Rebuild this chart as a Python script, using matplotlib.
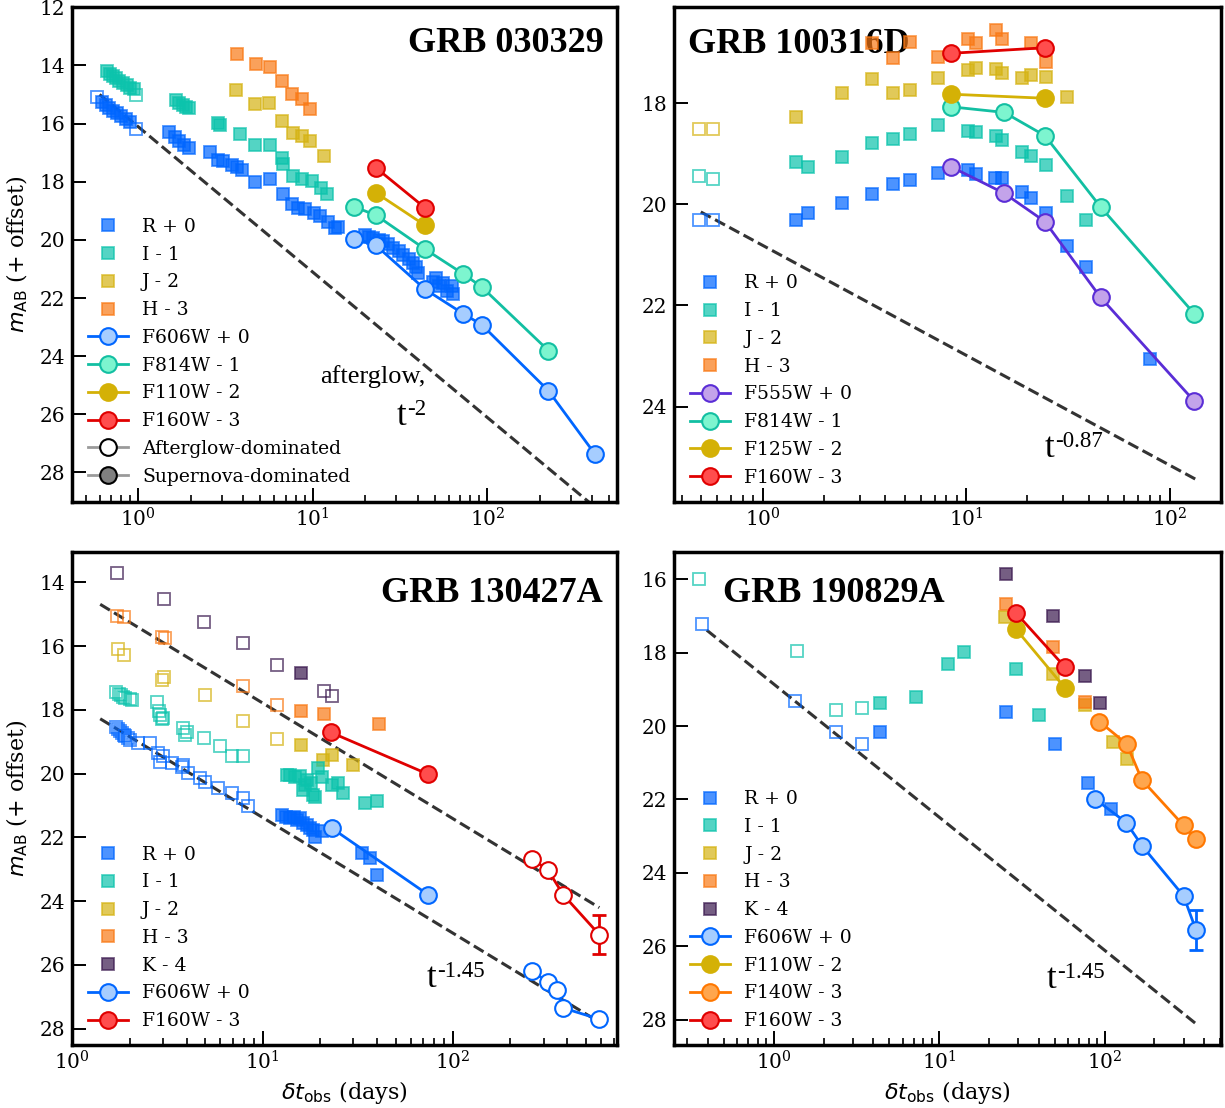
import numpy as np
import matplotlib
matplotlib.use("Agg")
import matplotlib.pyplot as plt
from matplotlib.lines import Line2D
from matplotlib.ticker import LogLocator, NullFormatter

plt.rcParams['font.family'] = ['DejaVu Serif']
plt.rcParams['mathtext.fontset'] = 'dejavusans'
TIMES = 'Liberation Serif'

# ---------------- DATA ----------------
# GRB 030329
A_R_ag_t = [0.58, 0.97]
A_R_ag_m = [15.10, 16.17]
A_R_t = [0.62, 0.65, 0.68, 0.72, 0.76, 0.80, 0.85, 0.90,
         1.50, 1.62, 1.72, 1.82, 1.95,
         2.58, 2.87, 3.05, 3.43, 3.70, 3.91, 4.67, 5.69,
         6.78, 7.6, 8.2, 9.0, 10.1, 11.0, 12.3, 13.4, 14.0,
         19.9, 21.0, 22.2, 24.0, 25.4, 27.0, 28.9, 31.0, 33.0, 35.5, 37.7, 39.0, 40.3,
         49, 51, 53, 56, 59, 63, 64]
A_R_m = [15.25, 15.35, 15.45, 15.55, 15.65, 15.75, 15.85, 15.95,
         16.30, 16.45, 16.60, 16.72, 16.85,
         16.97, 17.26, 17.30, 17.43, 17.50, 17.60, 18.00, 17.90,
         18.43, 18.77, 18.89, 18.94, 19.06, 19.17, 19.40, 19.60, 19.55,
         19.84, 19.90, 19.94, 20.00, 20.05, 20.15, 20.28, 20.40, 20.51, 20.65, 20.80, 20.95, 21.14,
         21.45, 21.30, 21.60, 21.50, 21.75, 21.60, 21.85]
A_I_ag_t = [0.97]
A_I_ag_m = [15.00]
A_I_t = [0.66, 0.69, 0.72, 0.75, 0.78, 0.82, 0.86, 0.90, 0.94,
         1.65, 1.72, 1.80, 1.88, 1.95,
         2.87, 2.95, 3.83, 4.67, 5.69, 6.63, 6.75,
         7.73, 8.64, 9.86, 11.2, 12.0]
A_I_m = [14.20, 14.28, 14.36, 14.44, 14.52, 14.60, 14.68, 14.76, 14.82,
         15.20, 15.28, 15.35, 15.42, 15.47,
         15.97, 16.05, 16.37, 16.75, 16.72, 17.17, 17.40,
         17.80, 17.90, 17.97, 18.20, 18.43]
A_J_t = [3.63, 4.67, 5.63, 6.63, 7.73, 8.64, 9.66, 11.6]
A_J_m = [14.83, 15.31, 15.28, 15.92, 16.32, 16.44, 16.61, 17.11]
A_H_t = [3.69, 4.70, 5.69, 6.63, 7.64, 8.64, 9.70]
A_H_m = [13.59, 13.94, 14.04, 14.55, 14.99, 15.16, 15.50]
A_F606W_t = [17.2, 23.0, 44.0, 72.8, 92.9, 224, 414]
A_F606W_m = [19.96, 20.19, 21.70, 22.54, 22.92, 25.19, 27.37]
A_F814W_t = [17.2, 23.0, 44.0, 72.8, 92.9, 224]
A_F814W_m = [18.86, 19.15, 20.32, 21.17, 21.62, 23.81]
A_F110W_t = [23.0, 44.0]
A_F110W_m = [18.38, 19.50]
A_F160W_t = [23.0, 44.0]
A_F160W_m = [17.52, 18.90]
A_model = dict(t0=0.60, m0=15.0, index=2.0, t1=420)

# GRB 100316D
B_R_ag_t = [0.486, 0.571]
B_R_ag_m = [20.31, 20.31]
B_I_ag_t = [0.486, 0.571]
B_I_ag_m = [19.43, 19.50]
B_J_ag_t = [0.486, 0.571]
B_J_ag_m = [18.50, 18.51]
B_R_t = [1.46, 1.665, 2.45, 3.44, 4.39, 5.33, 7.28, 10.2, 11.2, 13.9, 15.0, 18.9, 20.8, 24.7, 31.5, 39.0, 80.5]
B_R_m = [20.31, 20.18, 19.98, 19.80, 19.60, 19.52, 19.37, 19.31, 19.40, 19.47, 19.47, 19.76, 19.88, 20.18, 20.83, 21.24, 23.06]
B_I_t = [1.46, 1.665, 2.45, 3.44, 4.39, 5.33, 7.28, 10.2, 11.2, 14.0, 15.1, 18.9, 20.8, 24.7, 31.5, 39.0]
B_I_m = [19.16, 19.26, 19.06, 18.79, 18.71, 18.61, 18.43, 18.54, 18.56, 18.65, 18.73, 18.96, 19.04, 19.22, 19.84, 20.30]
B_J_t = [1.46, 2.45, 3.44, 4.39, 5.33, 7.28, 10.2, 11.2, 14.0, 15.1, 18.9, 20.8, 24.7, 31.5]
B_J_m = [18.28, 17.80, 17.52, 17.80, 17.74, 17.50, 17.34, 17.31, 17.32, 17.41, 17.50, 17.44, 17.47, 17.88]
B_H_t = [3.46, 4.39, 5.33, 7.28, 10.2, 11.2, 14.1, 15.0, 20.8, 24.7]
B_H_m = [16.81, 17.11, 16.79, 17.08, 16.73, 16.81, 16.55, 16.73, 16.81, 17.18]
B_F555W_t = [8.47, 15.4, 24.4, 45.8, 132]
B_F555W_m = [19.26, 19.78, 20.34, 21.84, 23.89]
B_F814W_t = [8.47, 15.4, 24.4, 45.8, 132]
B_F814W_m = [18.07, 18.18, 18.64, 20.05, 22.16]
B_F125W_t = [8.47, 24.4]
B_F125W_m = [17.82, 17.90]
B_F160W_t = [8.47, 24.4]
B_F160W_m = [17.01, 16.90]
B_model = dict(t0=0.497, m0=20.15, index=0.87, t1=135)

# GRB 130427A
C_K_ag_t = [1.72, 3.03, 4.94, 7.92, 11.9, 20.9, 23.1]
C_K_ag_m = [13.71, 14.53, 15.25, 15.91, 16.59, 17.40, 17.56]
C_K_t = [15.9]
C_K_m = [16.85]
C_H_ag_t = [1.71, 1.87, 2.97, 3.05, 7.92, 11.9]
C_H_ag_m = [15.07, 15.10, 15.70, 15.75, 17.24, 17.84]
C_H_t = [16.0, 20.9, 41.1]
C_H_m = [18.05, 18.14, 18.44]
C_J_ag_t = [1.73, 1.87, 2.95, 3.04, 4.98, 7.92, 11.9]
C_J_ag_m = [16.10, 16.28, 17.06, 16.96, 17.54, 18.35, 18.92]
C_J_t = [16.0, 20.7, 23.1, 30.0]
C_J_m = [19.10, 19.57, 19.41, 19.72]
C_I_ag_t = [1.70, 1.75, 1.80, 1.85, 1.90, 2.00, 2.05, 2.80, 2.85, 2.90, 2.95, 3.00,
            3.83, 3.90, 4.00, 4.94, 5.97, 6.88, 7.92]
C_I_ag_m = [17.45, 17.50, 17.55, 17.60, 17.62, 17.65, 17.70, 17.75, 18.05, 18.15, 18.30, 18.25,
            18.57, 18.80, 18.68, 18.89, 19.12, 19.46, 19.46]
C_I_t = [13.4, 13.9, 14.8, 15.7, 16.4, 16.7, 17.1, 18.0, 18.5, 18.9, 19.6, 20.5, 23.1, 25.0, 26.6, 34.5, 39.8]
C_I_m = [20.04, 20.04, 20.10, 20.09, 20.51, 20.35, 20.19, 20.30, 20.66, 20.72, 19.83, 20.10, 20.35, 20.30, 20.61, 20.93, 20.87]
C_R_ag_t = [1.70, 1.74, 1.78, 1.82, 1.86, 1.90, 1.95, 2.00,
            2.22, 2.56, 2.83, 2.89, 3.00, 3.33, 3.75, 3.83, 4.07, 4.69, 4.98, 5.85, 6.88, 7.92, 8.41]
C_R_ag_m = [18.55, 18.60, 18.66, 18.72, 18.78, 18.83, 18.88, 18.93,
            19.04, 19.04, 19.36, 19.62, 19.46, 19.67, 19.78, 19.72, 19.98, 20.14, 20.25, 20.45, 20.61, 20.77, 21.03]
C_R_t = [12.6, 13.2, 13.9, 14.6, 15.2, 15.7, 16.4, 17.1, 17.8, 18.5, 18.9, 20.5, 33.2, 36.7, 39.8]
C_R_m = [21.29, 21.35, 21.40, 21.35, 21.45, 21.40, 21.55, 21.60, 21.70, 21.76, 22.00, 21.81, 22.49, 22.65, 23.17]
C_F606W_t = [23.1, 74.3]
C_F606W_m = [21.71, 23.80]
C_F606W_ag_t = [260, 316, 352, 381, 589]
C_F606W_ag_m = [26.20, 26.52, 26.78, 27.35, 27.70]
C_F160W_t = [22.9, 74.3]
C_F160W_m = [18.71, 20.02]
C_F160W_ag_t = [260, 316, 381, 589]
C_F160W_ag_m = [22.67, 23.02, 23.80, 25.05]
C_F160W_ag_err = [0.0, 0.0, 0.0, 0.62]
C_model_hi = dict(t0=1.40, m0=14.69, index=1.45, t1=589)
C_model_lo = dict(t0=1.40, m0=18.28, index=1.45, t1=589)

# GRB 190829A
D_I_ag_t = [0.353, 1.38, 2.39, 3.39]
D_I_ag_m = [16.00, 17.96, 19.56, 19.52]
D_R_ag_t = [0.370, 1.35, 2.39, 3.39]
D_R_ag_m = [17.23, 19.32, 20.15, 20.50]
D_R_t = [4.37, 25.4, 50.2, 78.9, 109]
D_R_m = [20.15, 19.61, 20.50, 21.56, 22.27]
D_I_t = [4.37, 7.27, 11.3, 14.2, 29.2, 40.0]
D_I_m = [19.38, 19.22, 18.31, 17.98, 18.45, 19.70]
D_J_t = [24.8, 48.5, 76.5, 112, 136]
D_J_m = [17.03, 18.57, 19.43, 20.43, 20.90]
D_H_t = [25.2, 49.0, 76.5]
D_H_m = [16.69, 17.86, 19.34]
D_K_t = [25.4, 49.0, 76.5, 93.8]
D_K_m = [15.86, 17.01, 18.64, 19.37]
D_F606W_t = [87.5, 135, 168, 300, 356]
D_F606W_m = [21.99, 22.63, 23.26, 24.63, 25.55]
D_F606W_err = [0.0, 0.0, 0.0, 0.10, 0.55]
D_F110W_t = [29.2, 57.7]
D_F110W_m = [17.37, 18.97]
D_F140W_t = [92.9, 136, 168, 300, 356]
D_F140W_m = [19.88, 20.49, 21.47, 22.71, 23.08]
D_F160W_t = [29.2, 57.7]
D_F160W_m = [16.93, 18.40]
D_model = dict(t0=0.393, m0=17.39, index=1.45, t1=354)

# ---------------- STYLE ----------------
BAND = {'R': '#0066FF', 'I': '#0CC3AC', 'J': '#D5B313', 'H': '#F97915', 'K': '#3B1A4F'}
HST = {
    'F606W': ('#A6CDFF', '#0066FF'),
    'F814W': ('#7DF5CF', '#12BFA2'),
    'F110W': ('#D4B106', '#D4B106'),
    'F125W': ('#D4B106', '#D4B106'),
    'F140W': ('#FFA64D', '#FF7700'),
    'F160W': ('#FF4D4D', '#E00000'),
    'F555W': ('#C3A3EA', '#5A2DD6'),
}
SQ_MS, SQ_MEW, SQ_ALPHA = 9.0, 1.3, 0.7
C_MS, C_MEW = 12, 1.5

W, H = 1225, 1108
fig = plt.figure(figsize=(W / 100, H / 100), dpi=100)


def px_axes(x0, y0, x1, y1):
    return fig.add_axes([x0 / W, 1 - y1 / H, (x1 - x0) / W, (y1 - y0) / H])


def squares(ax, t, m, band, filled=True):
    c = BAND[band]
    ax.plot(t, m, ls='none', marker='s', ms=SQ_MS, mew=SQ_MEW,
            mfc=c if filled else 'none', mec=c, alpha=SQ_ALPHA, zorder=2)


def hst(ax, t, m, filt, filled=True, err=None):
    face, edge = HST[filt]
    ax.plot(t, m, '-', color=edge, lw=2, zorder=3)
    if err is not None:
        ax.errorbar(t, m, yerr=err, fmt='none', ecolor=edge, elinewidth=2,
                    capsize=5, capthick=2, zorder=3)
    ax.plot(t, m, ls='none', marker='o', ms=C_MS, mew=C_MEW,
            mfc=face if filled else 'white', mec=edge, zorder=4)


def model(ax, p):
    t = np.logspace(np.log10(p['t0']), np.log10(p['t1']), 50)
    m = p['m0'] + 2.5 * p['index'] * np.log10(t / p['t0'])
    ax.plot(t, m, ls='--', color='#333333', lw=2.2, zorder=1)


def sq_h(band, label):
    c = BAND[band]
    return Line2D([], [], ls='none', marker='s', ms=SQ_MS, mew=SQ_MEW, mfc=c, mec=c,
                  alpha=SQ_ALPHA, label=label)


def c_h(filt, label):
    face, edge = HST[filt]
    return Line2D([], [], color=edge, lw=2, marker='o', ms=C_MS, mew=C_MEW,
                  mfc=face, mec=edge, label=label)


def style_axes(ax, xlim, ylim, yticks):
    ax.set_xscale('log')
    ax.set_xlim(*xlim)
    ax.set_ylim(*ylim)
    ax.set_yticks(yticks)
    ax.xaxis.set_major_locator(LogLocator(base=10))
    ax.xaxis.set_minor_locator(LogLocator(base=10, subs=np.arange(2, 10)))
    ax.xaxis.set_minor_formatter(NullFormatter())
    ax.tick_params(which='major', direction='in', length=10, width=1.4,
                   labelsize=14.5, top=False, right=False, pad=5)
    ax.tick_params(which='minor', direction='in', length=5, width=1.2,
                   top=False, right=False)
    ax.tick_params(axis='x', which='major', pad=4)
    for s in ax.spines.values():
        s.set_linewidth(2.5)


def legend(ax, handles, x, y):
    ax.legend(handles=handles, loc='lower left', bbox_to_anchor=(x, y),
              frameon=False, fontsize=13.5, borderpad=0, borderaxespad=0,
              handlelength=2.13, handletextpad=0.75, labelspacing=0.52)


def title(ax, text, x, y, ha):
    ax.text(x, y, text, transform=ax.transAxes, ha=ha, va='baseline',
            fontsize=26, fontweight='bold', family=TIMES, zorder=1)


def power_label(ax, exponent, x, y):
    ax.text(x, y, 't', transform=ax.transAxes, ha='left', va='baseline',
            fontsize=25, family=TIMES, zorder=5)
    ax.annotate(exponent, xy=(x, y), xycoords='axes fraction', xytext=(7.5, 7),
                textcoords='offset points', ha='left', va='baseline',
                fontsize=16.5, family=TIMES, zorder=5)


YLAB = r'$m_{\rm AB}$ (+ offset)'
XLAB = r'$\delta t_{\rm obs}$ (days)'

# ---------------- PANEL A ----------------
axA = px_axes(72.3, 7.3, 616.8, 501.5)
style_axes(axA, (0.419, 552), (29, 12), np.arange(12, 29, 2))
model(axA, A_model)
squares(axA, A_R_t, A_R_m, 'R')
squares(axA, A_R_ag_t, A_R_ag_m, 'R', filled=False)
squares(axA, A_I_t, A_I_m, 'I')
squares(axA, A_I_ag_t, A_I_ag_m, 'I', filled=False)
squares(axA, A_J_t, A_J_m, 'J')
squares(axA, A_H_t, A_H_m, 'H')
hst(axA, A_F606W_t, A_F606W_m, 'F606W')
hst(axA, A_F814W_t, A_F814W_m, 'F814W')
hst(axA, A_F110W_t, A_F110W_m, 'F110W')
hst(axA, A_F160W_t, A_F160W_m, 'F160W')
title(axA, 'GRB 030329', 0.9765, 0.910, 'right')
axA.text((425 - 72.3) / 544.5, 1 - (383 - 7.3) / 494.2, 'afterglow,', transform=axA.transAxes,
         fontsize=19, family=TIMES, ha='right', va='baseline')
power_label(axA, '-2', (396.7 - 72.3) / 544.5, 1 - (425 - 7.3) / 494.2)
hA = [sq_h('R', 'R + 0'), sq_h('I', 'I - 1'), sq_h('J', 'J - 2'), sq_h('H', 'H - 3'),
      c_h('F606W', 'F606W + 0'), c_h('F814W', 'F814W - 1'), c_h('F110W', 'F110W - 2'),
      c_h('F160W', 'F160W - 3'),
      Line2D([], [], color='#9a9a9a', lw=2, marker='o', ms=C_MS, mew=C_MEW, mfc='white',
             mec='black', label='Afterglow-dominated'),
      Line2D([], [], color='#9a9a9a', lw=2, marker='o', ms=C_MS, mew=C_MEW, mfc='#808080',
             mec='black', label='Supernova-dominated')]
legend(axA, hA, 0.0288, 0.032)
axA.set_ylabel(YLAB, fontsize=16)
axA.yaxis.set_label_coords(-0.078, 0.5)

# ---------------- PANEL B ----------------
axB = px_axes(674, 7.3, 1221, 501.5)
style_axes(axB, (0.367, 179), (25.88, 16.1), [18, 20, 22, 24])
model(axB, B_model)
squares(axB, B_R_t, B_R_m, 'R')
squares(axB, B_R_ag_t, B_R_ag_m, 'R', filled=False)
squares(axB, B_I_t, B_I_m, 'I')
squares(axB, B_I_ag_t, B_I_ag_m, 'I', filled=False)
squares(axB, B_J_t, B_J_m, 'J')
squares(axB, B_J_ag_t, B_J_ag_m, 'J', filled=False)
squares(axB, B_H_t, B_H_m, 'H')
hst(axB, B_F555W_t, B_F555W_m, 'F555W')
hst(axB, B_F814W_t, B_F814W_m, 'F814W')
hst(axB, B_F125W_t, B_F125W_m, 'F125W')
hst(axB, B_F160W_t, B_F160W_m, 'F160W')
title(axB, 'GRB 100316D', 0.026, 0.908, 'left')
power_label(axB, '-0.87', (1045 - 674) / 547, 1 - (457 - 7.3) / 494.2)
hB = [sq_h('R', 'R + 0'), sq_h('I', 'I - 1'), sq_h('J', 'J - 2'), sq_h('H', 'H - 3'),
      c_h('F555W', 'F555W + 0'), c_h('F814W', 'F814W - 1'), c_h('F125W', 'F125W - 2'),
      c_h('F160W', 'F160W - 3')]
legend(axB, hB, 0.030, 0.030)

# ---------------- PANEL C ----------------
axC = px_axes(72.4, 552, 616.8, 1045)
style_axes(axC, (1.0, 728), (28.51, 13.05), np.arange(14, 29, 2))
model(axC, C_model_hi)
model(axC, C_model_lo)
squares(axC, C_K_ag_t, C_K_ag_m, 'K', filled=False)
squares(axC, C_K_t, C_K_m, 'K')
squares(axC, C_H_ag_t, C_H_ag_m, 'H', filled=False)
squares(axC, C_H_t, C_H_m, 'H')
squares(axC, C_J_ag_t, C_J_ag_m, 'J', filled=False)
squares(axC, C_J_t, C_J_m, 'J')
squares(axC, C_I_ag_t, C_I_ag_m, 'I', filled=False)
squares(axC, C_I_t, C_I_m, 'I')
squares(axC, C_R_ag_t, C_R_ag_m, 'R', filled=False)
squares(axC, C_R_t, C_R_m, 'R')
hst(axC, C_F606W_t, C_F606W_m, 'F606W')
hst(axC, C_F606W_ag_t, C_F606W_ag_m, 'F606W', filled=False)
hst(axC, C_F160W_t, C_F160W_m, 'F160W')
hst(axC, C_F160W_ag_t, C_F160W_ag_m, 'F160W', filled=False, err=C_F160W_ag_err)
title(axC, 'GRB 130427A', 0.9747, 0.899, 'right')
power_label(axC, '-1.45', (426.7 - 72.4) / 544.4, 1 - (986.7 - 552) / 493)
hC = [sq_h('R', 'R + 0'), sq_h('I', 'I - 1'), sq_h('J', 'J - 2'), sq_h('H', 'H - 3'),
      sq_h('K', 'K - 4'), c_h('F606W', 'F606W + 0'), c_h('F160W', 'F160W - 3')]
legend(axC, hC, 0.028, 0.030)
axC.set_ylabel(YLAB, fontsize=16)
axC.yaxis.set_label_coords(-0.078, 0.5)
axC.set_xlabel(XLAB, fontsize=16)
axC.xaxis.set_label_coords(0.5, -0.069)

# ---------------- PANEL D ----------------
axD = px_axes(674, 552, 1221, 1045)
style_axes(axD, (0.249, 505), (28.69, 15.26), np.arange(16, 29, 2))
model(axD, D_model)
squares(axD, D_R_ag_t, D_R_ag_m, 'R', filled=False)
squares(axD, D_I_ag_t, D_I_ag_m, 'I', filled=False)
squares(axD, D_R_t, D_R_m, 'R')
squares(axD, D_I_t, D_I_m, 'I')
squares(axD, D_J_t, D_J_m, 'J')
squares(axD, D_H_t, D_H_m, 'H')
squares(axD, D_K_t, D_K_m, 'K')
hst(axD, D_F606W_t, D_F606W_m, 'F606W', err=D_F606W_err)
hst(axD, D_F110W_t, D_F110W_m, 'F110W')
hst(axD, D_F140W_t, D_F140W_m, 'F140W')
hst(axD, D_F160W_t, D_F160W_m, 'F160W')
title(axD, 'GRB 190829A', 0.090, 0.899, 'left')
power_label(axD, '-1.45', (1047 - 674) / 547, 1 - (987.5 - 552) / 493)
hD = [sq_h('R', 'R + 0'), sq_h('I', 'I - 1'), sq_h('J', 'J - 2'), sq_h('H', 'H - 3'),
      sq_h('K', 'K - 4'), c_h('F606W', 'F606W + 0'), c_h('F110W', 'F110W - 2'),
      c_h('F140W', 'F140W - 3'), c_h('F160W', 'F160W - 3')]
legend(axD, hD, 0.030, 0.030)
axD.set_xlabel(XLAB, fontsize=16)
axD.xaxis.set_label_coords(0.5, -0.069)

fig.savefig('out.png', dpi=100)
